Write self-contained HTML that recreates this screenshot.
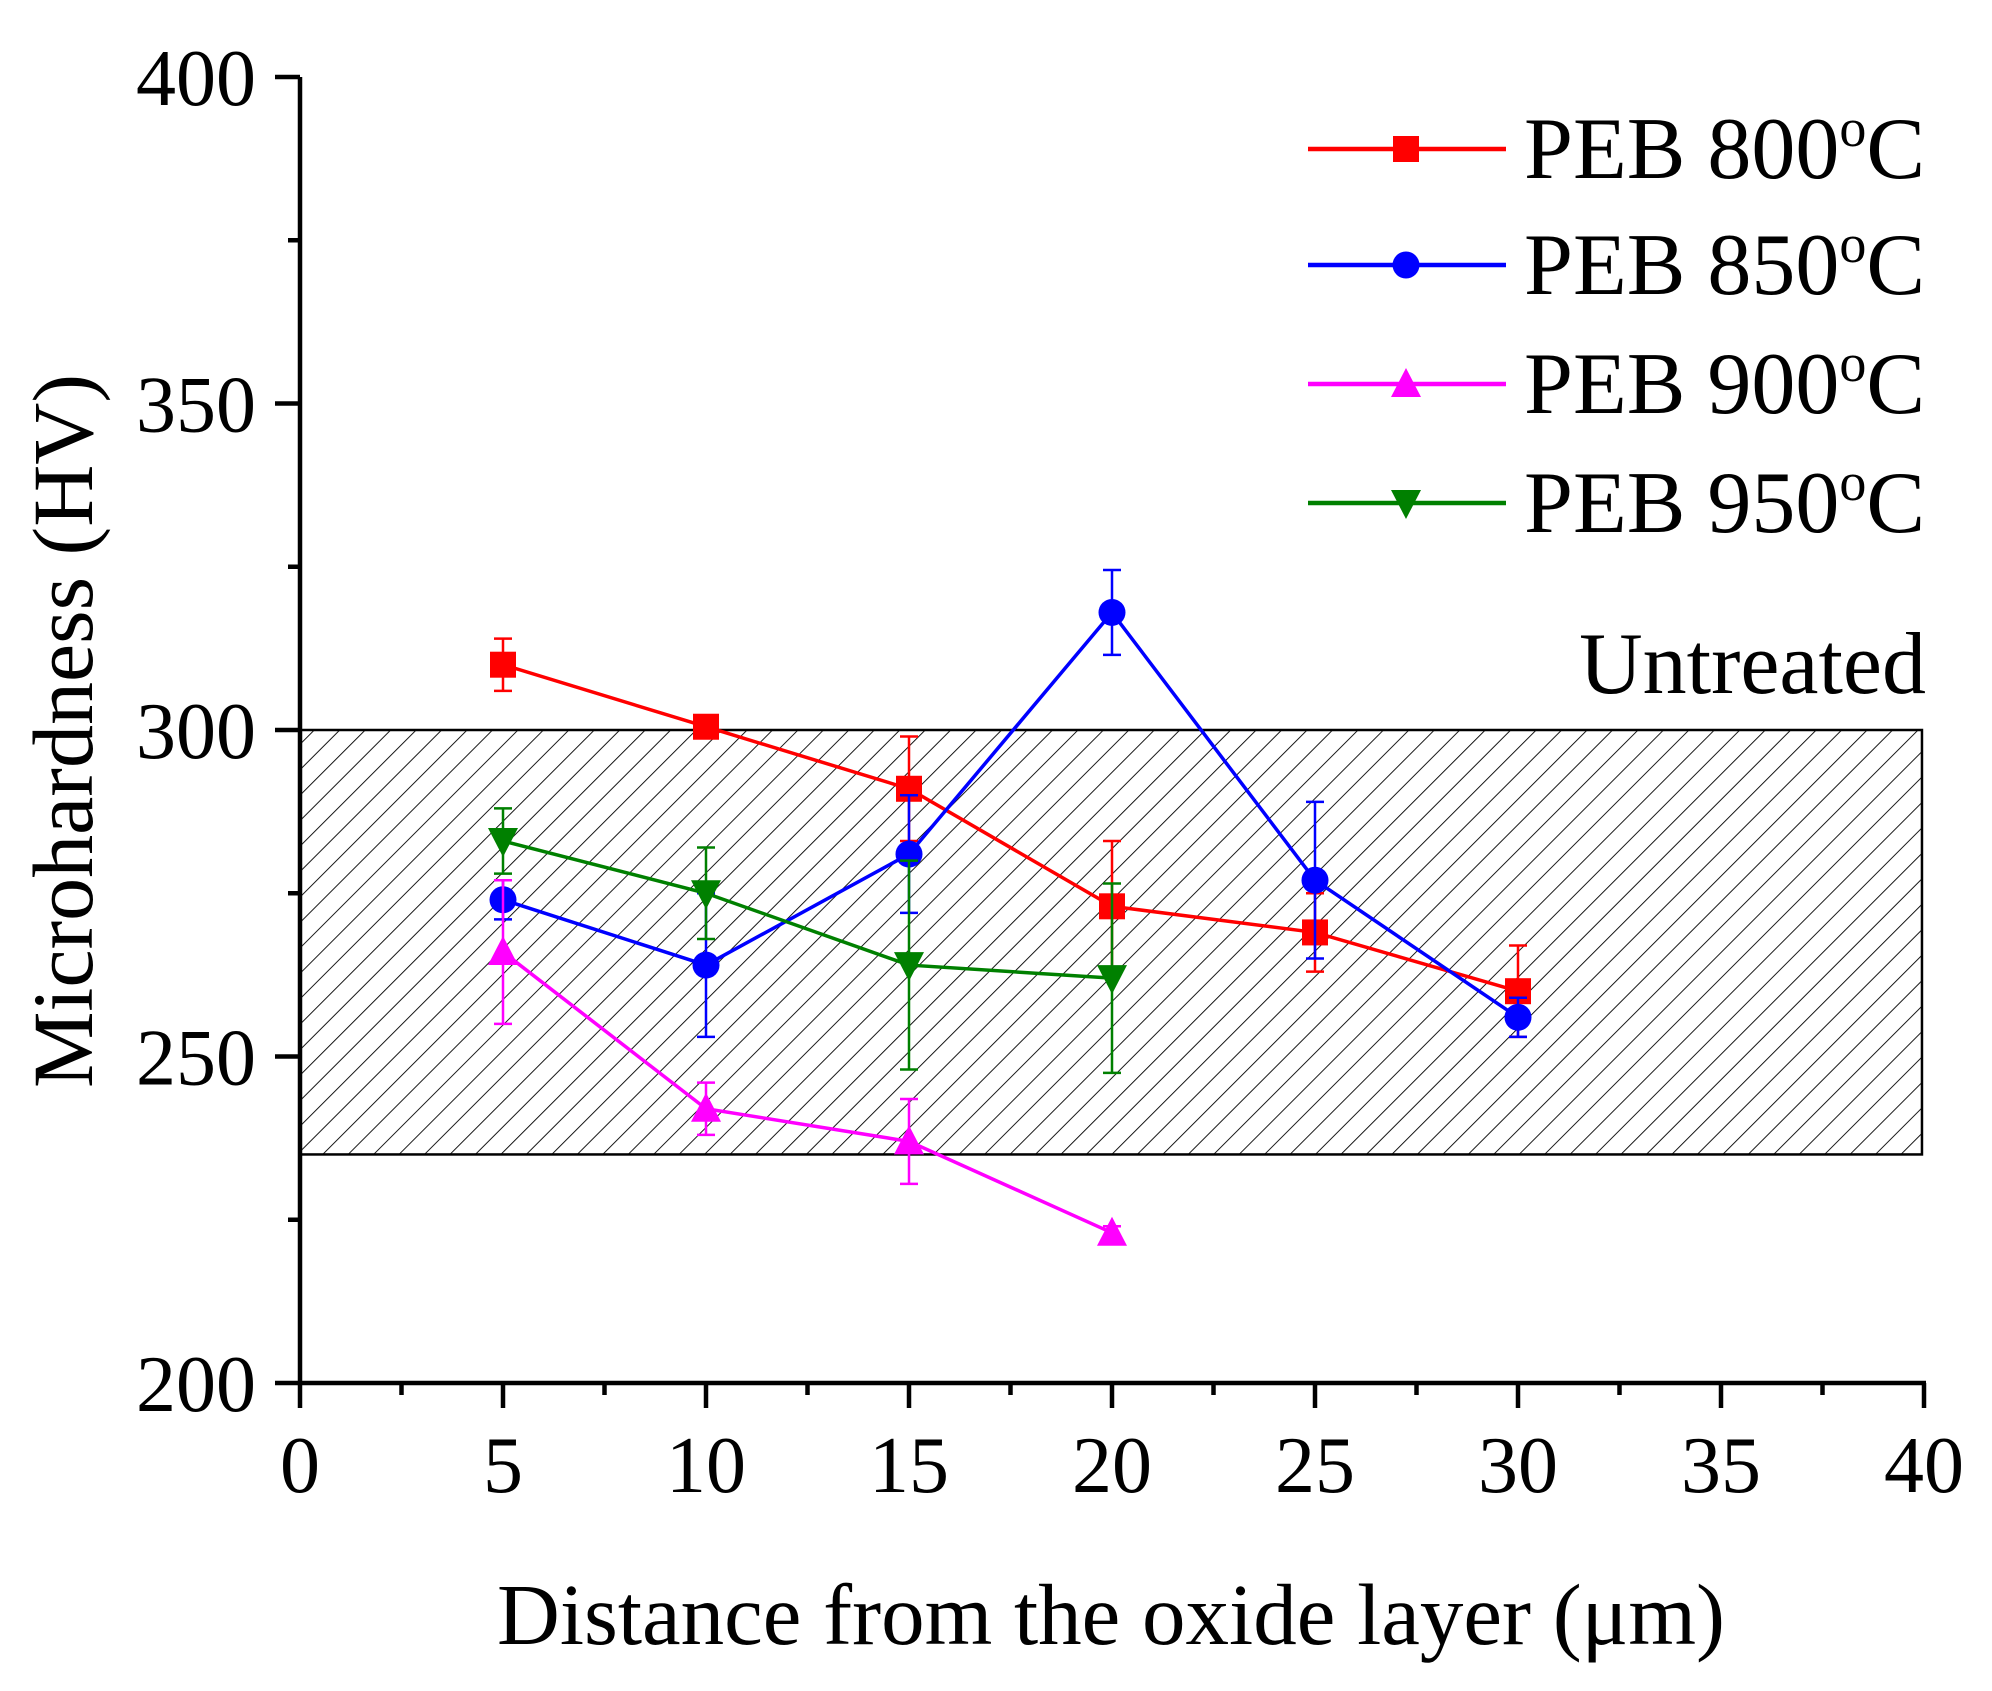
<!DOCTYPE html>
<html><head><meta charset="utf-8"><style>
html,body{margin:0;padding:0;background:#fff;}
svg{display:block;font-family:"Liberation Serif",serif;}
</style></head><body>
<svg id="chart" width="1992" height="1691" viewBox="0 0 1992 1691" xmlns="http://www.w3.org/2000/svg">
<defs>
<pattern id="hatch" patternUnits="userSpaceOnUse" width="18" height="18" patternTransform="rotate(45)">
<line x1="0" y1="0" x2="0" y2="18" stroke="#000" stroke-width="1.8"/>
</pattern>
</defs>
<g id="band"></g>
<g id="axes"></g>
<g id="series"></g>
<g id="legend"></g>
<text x="0" y="0" transform="translate(92,731) rotate(-90)" text-anchor="middle" font-size="86">Microhardness (HV)</text>
<text x="1111" y="1644" text-anchor="middle" font-size="87">Distance from the oxide layer (μm)</text>
<text x="1926" y="693" text-anchor="end" font-size="88">Untreated</text>
</svg>
<script>
const xTicks = [0,5,10,15,20,25,30,35,40];
const yTicks = [200,250,300,350,400];
const xCats = [5,10,15,20,25,30];
const s800 = [310,300.5,291,273,269,260];
const e800 = [4,1,8,10,6,7];
const s850 = [274,264,281,318,277,256];
const e850 = [3,11,9,6.5,12,3];
const s900 = [266,242,237,223];
const e900 = [11,4,6.5,1];
const s950 = [283,275,264,262];
const e950 = [5,7,16,14.5];
const bandLow = 235, bandHigh = 300, bandXEnd = 39.95;

const NS = "http://www.w3.org/2000/svg";
const X0=300, X1=1924, Y0=1383, Y1=77;
function xs(v){return X0+(v-0)/(40-0)*(X1-X0);}
function ys(v){return Y0-(v-200)/(400-200)*(Y0-Y1);}
function mk(tag, attrs, parent){const e=document.createElementNS(NS,tag);for(const k in attrs)e.setAttribute(k,attrs[k]);parent.appendChild(e);return e;}

const band=document.getElementById('band');
const br=mk('rect',{x:xs(0),y:ys(bandHigh),width:xs(bandXEnd)-xs(0),height:ys(bandLow)-ys(bandHigh),fill:'url(#hatch)',stroke:'#000','stroke-width':2.5},band);



const axes=document.getElementById('axes');
let l=mk('line',{x1:X0,y1:Y0,x2:X1+2,y2:Y0,stroke:'#000','stroke-width':4.5},axes);


l=mk('line',{x1:X0,y1:Y0+2,x2:X0,y2:Y1,stroke:'#000','stroke-width':4.5},axes);


xTicks.forEach((t,i)=>{
  const tk=mk('line',{x1:xs(t),y1:Y0,x2:xs(t),y2:Y0+25,stroke:'#000','stroke-width':4.5},axes);
  
  
  if(i<xTicks.length-1){
    const m=mk('line',{x1:xs(t+2.5),y1:Y0,x2:xs(t+2.5),y2:Y0+12,stroke:'#000','stroke-width':4.5},axes);
    
    
  }
  const tx=mk('text',{x:xs(t),y:1492,'text-anchor':'middle','font-size':80},axes);
  tx.textContent=t;
  
  
});
yTicks.forEach((t,i)=>{
  const tk=mk('line',{x1:X0-25,y1:ys(t),x2:X0,y2:ys(t),stroke:'#000','stroke-width':4.5},axes);
  
  
  if(i<yTicks.length-1){
    const m=mk('line',{x1:X0-12,y1:ys(t+25),x2:X0,y2:ys(t+25),stroke:'#000','stroke-width':4.5},axes);
    
    
  }
  const tx=mk('text',{x:256,y:ys(t)+28,'text-anchor':'end','font-size':80},axes);
  tx.textContent=t;
  
  
});

function marker(shape,cx,cy,color,parent){
  let e;
  if(shape==='square') e=mk('rect',{x:cx-13,y:cy-13,width:26,height:26,fill:color},parent);
  else if(shape==='circle') e=mk('circle',{cx:cx,cy:cy,r:13.5,fill:color},parent);
  else if(shape==='up') e=mk('polygon',{points:`${cx},${cy-16} ${cx-15},${cy+13} ${cx+15},${cy+13}`,fill:color},parent);
  else e=mk('polygon',{points:`${cx},${cy+16} ${cx-15},${cy-13} ${cx+15},${cy-13}`,fill:color},parent);
  return e;
}

const seriesDefs=[
  {name:'peb-800',vals:s800,errs:e800,color:'#ff0000',shape:'square',label:'PEB 800'},
  {name:'peb-850',vals:s850,errs:e850,color:'#0000ff',shape:'circle',label:'PEB 850'},
  {name:'peb-900',vals:s900,errs:e900,color:'#ff00ff',shape:'up',label:'PEB 900'},
  {name:'peb-950',vals:s950,errs:e950,color:'#008000',shape:'down',label:'PEB 950'}
];
const sg=document.getElementById('series');
seriesDefs.forEach(s=>{
  const g=mk('g',{},sg);
  
  
  const pts=s.vals.map((v,i)=>xs(xCats[i])+','+ys(v)).join(' ');
  const pl=mk('polyline',{points:pts,fill:'none',stroke:s.color,'stroke-width':3.5},g);
  
  
  s.vals.forEach((v,i)=>{
    const cx=xs(xCats[i]), top=ys(v+s.errs[i]), bot=ys(v-s.errs[i]);
    const eb=mk('path',{d:`M${cx},${top}V${bot}M${cx-9},${top}H${cx+9}M${cx-9},${bot}H${cx+9}`,stroke:s.color,'stroke-width':2.5,fill:'none'},g);
    
    
    const m=marker(s.shape,cx,ys(v),s.color,g);
    
    
  });
});

const lg=document.getElementById('legend');
const rowY=[149,265,384,503];
seriesDefs.forEach((s,i)=>{
  const g=mk('g',{},lg);
  
  
  mk('line',{x1:1308,y1:rowY[i],x2:1506,y2:rowY[i],stroke:s.color,'stroke-width':4.5},g);
  marker(s.shape,1406,rowY[i],s.color,g);
  const t=mk('text',{x:1524,y:rowY[i]+29,'font-size':88},g);
  t.textContent=s.label;
  const sup=document.createElementNS(NS,'tspan');
  sup.setAttribute('dy','-32');
  sup.setAttribute('font-size','54');
  sup.textContent='o';
  t.appendChild(sup);
  const c=document.createElementNS(NS,'tspan');
  c.setAttribute('dy','32');
  c.textContent='C';
  t.appendChild(c);
});
</script>
</body></html>
